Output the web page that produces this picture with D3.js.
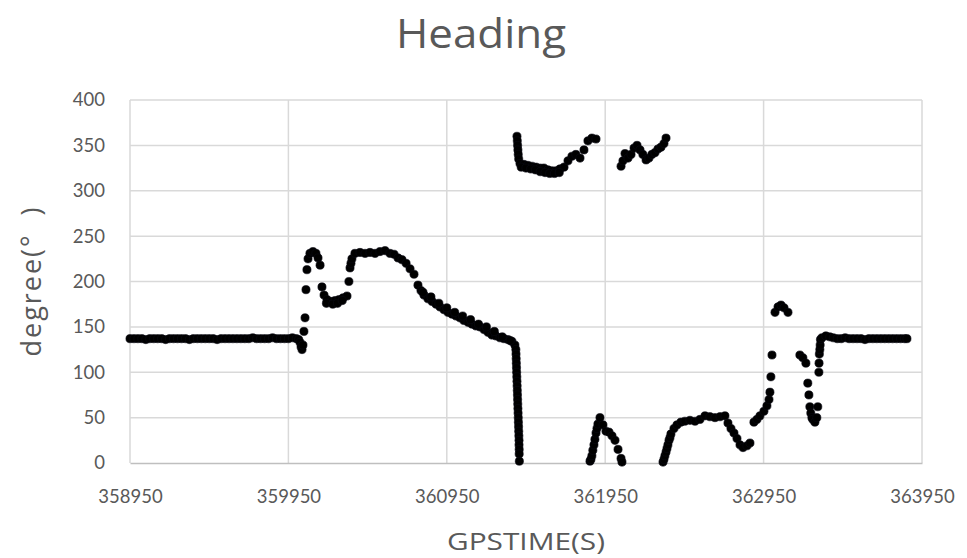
<!DOCTYPE html>
<html><head><meta charset="utf-8">
<script src="https://cdn.jsdelivr.net/npm/d3@7"></script>
<style>html,body{margin:0;padding:0;background:#fff;}svg{display:block;font-family:Lato,"Open Sans",sans-serif;}</style>
</head><body>
<svg id="chart" width="967" height="558"></svg>
<script>
const chartTitle = "Heading";
const xTitle = "GPSTIME(S)";
const yTitle = "degree(°  )";
const xTicks = [358950, 359950, 360950, 361950, 362950, 363950];
const yTicks = [0, 50, 100, 150, 200, 250, 300, 350, 400];

// Flat start segment (GPS time, heading)
const flatStartTimes = [358950,358975,359000,359025,359050,359075,359100,359125,359150,359175,359200,359225,359250,359275,359300,359325,359350,359375,359400,359425,359450,359475,359500,359525,359550,359575,359600,359625,359650,359675,359700,359725,359750,359775,359800,359825,359850,359875,359900,359925,359950,359975,360000,360015];
const flatStartValues = [137,137,137,137,136,137,137,137,137,136,137,137,137,137,137,136,137,137,137,137,137,137,136,137,137,137,137,137,137,137,137,138,137,137,137,137,138,137,137,137,137,138,137,136];

// Main manoeuvre samples
const midTimes = [360023,360030,360036,360042,360048,360055,360061,360067,360074,360086,360105,360124,360137,360150,360162,360175,360194,360219,360244,360269,360295,360320,360332,360339,360345,360351,360370,360402,360434,360465,360497,360528,360560,360591,360617,360642,360667,360693,360718,360743,360768,360787,360806,360831,360857,360882,360907,360932,360957,360983,361008,361033,361058,361084,361109,361134,361159,361185,361210,361235,361260,361286,361311,361336,361361,361380];
const midValues = [133,128,125,130,145,160,191,213,225,231,233,231,226,218,194,185,180,178,179,180,182,184,200,215,220,225,231,232,231,232,231,233,234,231,230,226,224,220,214,208,196,190,185,181,178,175,172,169,166,164,162,160,157,155,153,151,150,147,144,141,140,138,137,136,134,130];

// Extra scatter around the decreasing stretch (thicker band)
const bandTimes = [360190,360230,360260,360290,360800,360850,360900,360950,361000,361050,361100,361150,361200,361250,361300,361350];
const bandValues = [176,175,176,179,188,183,176,171,166,162,158,153,150,145,139,135];

// Sharp drop to 0
const dropTimes = [361386,361387,361388,361389,361390,361391,361392,361393,361394,361395,361396,361397,361398,361399,361400,361401,361402,361403,361404,361405,361406,361406,361407,361407,361408];
const dropValues = [125,120,115,110,105,100,95,90,85,80,75,70,65,60,55,50,45,40,35,30,25,20,15,10,2];

// Upper cluster 1 (wrap-around near 360)
const upper1Times = [361393,361395,361397,361399,361401,361404,361412,361437,361462,361488,361513,361538,361563,361589,361614,361639,361664,361690,361715,361740,361765,361791,361816,361841,361866,361892,361420,361450,361480,361510,361540,361570,361600,361630,361660];
const upper1Values = [360,355,350,345,340,335,330,329,328,327,326,325,325,323,322,322,324,326,333,338,340,336,345,355,358,357,326,325,324,323,321,320,319,319,320];

// Lower cluster near 361950
const lower1Times = [361854,361860,361866,361872,361879,361885,361892,361898,361904,361917,361936,361955,361974,361993,362012,362031,362050,362056];
const lower1Values = [2,4,8,14,20,26,33,38,43,50,42,35,34,30,25,15,5,1];

// Upper cluster 2
const upper2Times = [362050,362062,362075,362094,362113,362132,362151,362170,362188,362208,362226,362245,362264,362283,362302,362321,362334];
const upper2Values = [327,333,341,336,340,347,350,345,340,334,336,340,342,346,348,352,358];

// Lower rise and late manoeuvres
const lateTimes = [362315,362321,362327,362334,362340,362346,362353,362359,362365,362384,362403,362428,362453,362485,362517,362548,362580,362611,362643,362675,362706,362725,362744,362763,362782,362801,362820,362845,362864,362889,362908,362927,362952,362971,362984,362990,362996,363003,363022,363041,363060,363079,363104,363179,363198,363217,363229,363236,363242,363248,363255,363261,363274,363286,363292,363299,363300,363302,363305,363307,363309,363318,363343,363368];
const lateValues = [1,4,8,12,16,20,25,28,32,38,42,45,46,47,46,48,52,51,50,51,52,44,38,33,27,20,17,19,22,45,48,52,57,63,70,78,95,119,166,172,174,171,166,119,116,110,88,75,62,55,50,48,45,50,62,100,110,120,125,130,136,138,140,139];

// Flat end segment
const flatEndTimes = [363390,363415,363440,363465,363490,363515,363540,363565,363590,363615,363640,363665,363690,363715,363740,363765,363790,363815,363840,363855];
const flatEndValues = [138,137,137,138,137,137,137,137,136,137,137,137,137,137,137,137,137,137,137,137];

const W = 967, H = 558;
const m = {left: 130, right: 45, top: 100, bottom: 95};
const svg = d3.select("#chart");
const x = d3.scaleLinear().domain([358950, 363950]).range([m.left, W - m.right]);
const y = d3.scaleLinear().domain([0, 400]).range([H - m.bottom, m.top]);

const textCol = "#595959";
const gridCol = "#d9d9d9";

// gridlines
svg.append("g").selectAll("line.h").data(yTicks.filter(d => d > 0)).join("line")
  .attr("x1", m.left).attr("x2", W - m.right)
  .attr("y1", d => y(d)).attr("y2", d => y(d))
  .attr("stroke", gridCol).attr("stroke-width", 1.5);
svg.append("g").selectAll("line.v").data(xTicks).join("line")
  .attr("x1", d => x(d)).attr("x2", d => x(d))
  .attr("y1", m.top).attr("y2", H - m.bottom)
  .attr("stroke", gridCol).attr("stroke-width", 1.5);

// axes
const xAxis = svg.append("g").attr("transform", `translate(0,${H - m.bottom})`)
  .call(d3.axisBottom(x).tickValues(xTicks).tickSize(0).tickPadding(27).tickFormat(d3.format("d")));
xAxis.select(".domain").attr("stroke", "#bfbfbf").attr("stroke-width", 1.5);
xAxis.selectAll("text").attr("fill", textCol).attr("font-size", 18.5).attr("font-family", "Lato");

const yAxis = svg.append("g").attr("transform", `translate(${m.left},0)`)
  .call(d3.axisLeft(y).tickValues(yTicks).tickSize(0).tickPadding(25));
yAxis.select(".domain").remove();
yAxis.selectAll("text").attr("fill", textCol).attr("font-size", 18.5).attr("font-family", "Lato");

// titles
svg.append("text").attr("x", 481).attr("y", 48).attr("text-anchor", "middle")
  .attr("fill", textCol).attr("font-size", 40).attr("font-family", "Open Sans")
  .attr("textLength", 170).attr("lengthAdjust", "spacingAndGlyphs").text(chartTitle);
svg.append("text").attr("x", 526).attr("y", 550).attr("text-anchor", "middle")
  .attr("fill", textCol).attr("font-size", 24).attr("font-family", "Open Sans")
  .attr("textLength", 158).attr("lengthAdjust", "spacingAndGlyphs").text(xTitle);
svg.append("text").attr("transform", `translate(41,282) rotate(-90)`)
  .attr("text-anchor", "middle").attr("fill", textCol).attr("font-size", 27).attr("font-family", "Open Sans")
  .style("white-space", "pre")
  .attr("textLength", 149).attr("lengthAdjust", "spacing").text(yTitle);

// points
const segments = [
  [flatStartTimes, flatStartValues], [midTimes, midValues], [bandTimes, bandValues], [dropTimes, dropValues],
  [upper1Times, upper1Values], [lower1Times, lower1Values], [upper2Times, upper2Values],
  [lateTimes, lateValues], [flatEndTimes, flatEndValues]
];
const pts = [];
segments.forEach(([ts, vs]) => ts.forEach((t, i) => pts.push({t, v: vs[i]})));
svg.append("g").selectAll("circle").data(pts).join("circle")
  .attr("cx", d => x(d.t)).attr("cy", d => y(d.v)).attr("r", 4.1)
  .attr("fill", "#000").attr("stroke", "#0a0a14").attr("stroke-width", 0.6);
</script>
</body></html>
